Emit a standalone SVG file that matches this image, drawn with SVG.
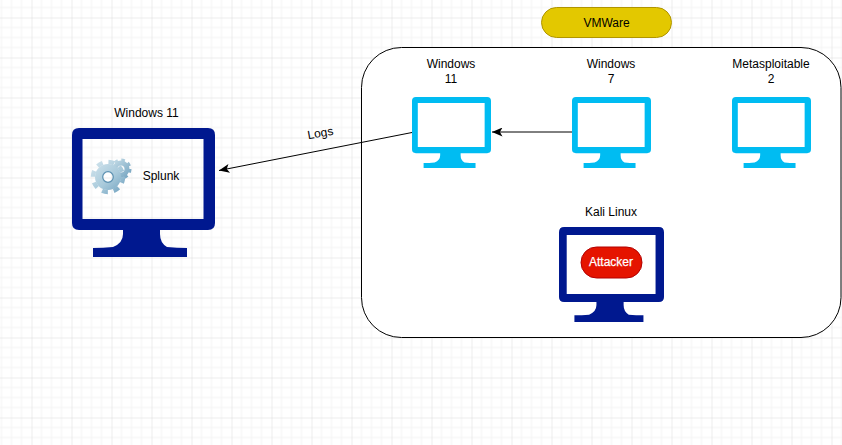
<svg xmlns="http://www.w3.org/2000/svg" width="842" height="445" viewBox="0 0 842 445">
<style>
text{font-family:"Liberation Sans",Arial,sans-serif;font-size:12px;fill:#000;text-anchor:middle}
.edge{fill:none;stroke:#000;stroke-width:1;marker-end:url(#arrow)}
.navy{color:#00188f}
.cyan{color:#00bcf2}
</style>
<defs>
<pattern id="grid" width="40" height="40" patternUnits="userSpaceOnUse" x="-8.5" y="-22.5">
<path d="M0 0V40M10 0V40M20 0V40M30 0V40M0 0H40M0 10H40M0 20H40M0 30H40" stroke="#f3f3f3" stroke-width="1" fill="none"/>
<path d="M0 0V40M0 0H40" stroke="#dedede" stroke-width="1" fill="none"/>
</pattern>
<marker id="arrow" viewBox="0 0 11 9" refX="10.5" refY="4.5" markerWidth="11" markerHeight="9" markerUnits="userSpaceOnUse" orient="auto">
<path d="M0 0L10.500 4.500L0 9L2.600 4.500Z" fill="#000"/>
</marker>
<symbol id="monitor" viewBox="0 0 143 129" preserveAspectRatio="none">
<path fill="currentColor" fill-rule="evenodd" d="M7 0H136Q143 0 143 7V95Q143 102 136 102H88V106Q88 115 95 119Q105 120 115 120V129H21V120Q31 120 41 119Q51 115 51 106V102H7Q0 102 0 95V7Q0 0 7 0ZM10.500 11V91H131.500V11Z"/>
</symbol>
<linearGradient id="gear" gradientUnits="userSpaceOnUse" x1="92" y1="158" x2="125" y2="195">
<stop offset="0" stop-color="#d6e7ef"/><stop offset="0.55" stop-color="#a9cadb"/><stop offset="1" stop-color="#6a9dbc"/>
</linearGradient>
<linearGradient id="gear2" gradientUnits="userSpaceOnUse" x1="112" y1="159" x2="131" y2="179">
<stop offset="0" stop-color="#c9dfe9"/><stop offset="1" stop-color="#6d9fbd"/>
</linearGradient>
</defs>
<rect width="842" height="445" fill="#fff"/>
<rect width="842" height="445" fill="url(#grid)"/>
<rect id="vmware-frame" x="361.500" y="47.500" width="479.500" height="290" rx="40" fill="#fff" stroke="#000"/>
<g id="vmware"><rect x="541.500" y="7.500" width="130" height="30" rx="15" fill="#e3c800" stroke="#b09500"/><text x="606.500" y="26.500">VMWare</text></g>
<g id="splunk-host">
<use href="#monitor" x="72" y="128" width="143" height="129" class="navy"/>
<text x="146.500" y="117">Windows 11</text>
<g fill="none">
<circle cx="121" cy="169" r="6" stroke-width="5" stroke="url(#gear2)"/>
<circle cx="121" cy="169" r="9" stroke-width="3" stroke="url(#gear2)" stroke-dasharray="3.530 3.540"/>
<circle cx="108" cy="177" r="9" stroke-width="8" stroke="url(#gear)"/>
<circle cx="108" cy="177" r="15" stroke-width="4.500" stroke="url(#gear)" stroke-dasharray="5.900 5.880"/>
<circle cx="108" cy="177" r="5.300" stroke-width="1.200" stroke="#5f93b3"/>
</g>
<text x="161" y="180">Splunk</text>
</g>
<g id="win11">
<use href="#monitor" x="412" y="97" width="79" height="71" class="cyan"/>
<text x="451" y="68">Windows</text><text x="451" y="83">11</text>
</g>
<g id="win7">
<use href="#monitor" x="572" y="97" width="79" height="71" class="cyan"/>
<text x="611" y="68">Windows</text><text x="611" y="83">7</text>
</g>
<g id="metasploitable">
<use href="#monitor" x="732" y="97" width="79" height="71" class="cyan"/>
<text x="771" y="68">Metasploitable</text><text x="771" y="83">2</text>
</g>
<g id="kali">
<use href="#monitor" x="559" y="227" width="105" height="95" class="navy"/>
<text x="611" y="216">Kali Linux</text>
<rect x="581" y="247" width="61" height="31" rx="15.500" fill="#e51400" stroke="#b20000"/>
<text x="611" y="266" style="fill:#fff;stroke:#fff;stroke-width:.25">Attacker</text>
</g>
<g id="connectors">
<path class="edge" d="M412 132.500L219 170.500"/>
<path class="edge" d="M572 132H492"/>
<text transform="translate(321 137) rotate(-10)">Logs</text>
</g>
</svg>
